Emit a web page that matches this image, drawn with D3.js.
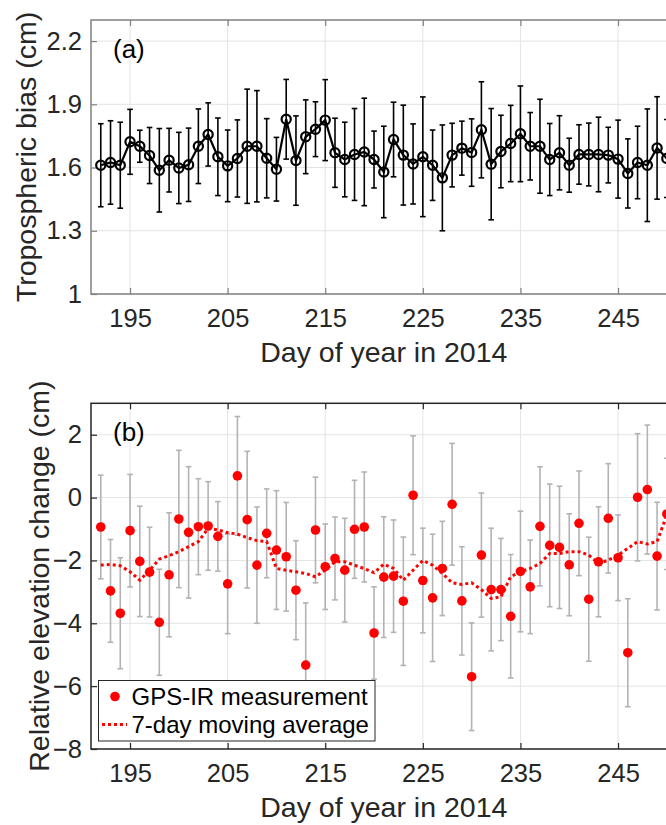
<!DOCTYPE html>
<html>
<head>
<meta charset="utf-8">
<script src="https://cdn.jsdelivr.net/npm/d3@7"></script>
<style>
  body { margin: 0; background: #fff; }
  svg { display: block; font-family: "Liberation Sans", Arial, Helvetica, sans-serif; }
</style>
</head>
<body>
<svg id="chart" width="666" height="825"></svg>
<script>

// data
var days = [192, 193, 194, 195, 196, 197, 198, 199, 200, 201, 202, 203, 204, 205, 206,
  207, 208, 209, 210, 211, 212, 213, 214, 215, 216, 217, 218, 219, 220, 221, 222,
  223, 224, 225, 226, 227, 228, 229, 230, 231, 232, 233, 234, 235, 236, 237, 238,
  239, 240, 241, 242, 243, 244, 245, 246, 247, 248, 249, 250];

var biasVals = [1.611, 1.624, 1.611, 1.722, 1.701, 1.657, 1.587, 1.635, 1.598, 1.613,
  1.701, 1.757, 1.651, 1.608, 1.643, 1.701, 1.701, 1.644, 1.592, 1.829, 1.633, 1.746,
  1.782, 1.825, 1.670, 1.638, 1.662, 1.674, 1.638, 1.579, 1.733, 1.659, 1.617, 1.651,
  1.611, 1.551, 1.659, 1.692, 1.671, 1.779, 1.616, 1.676, 1.714, 1.760, 1.701, 1.701,
  1.638, 1.670, 1.611, 1.662, 1.662, 1.662, 1.659, 1.640, 1.572, 1.624, 1.611, 1.693, 1.643];

var biasErr = [0.197, 0.198, 0.204, 0.154, 0.076, 0.133, 0.198, 0.151, 0.169, 0.174,
  0.177, 0.150, 0.184, 0.170, 0.183, 0.271, 0.264, 0.188, 0.151, 0.189, 0.212, 0.175,
  0.130, 0.192, 0.164, 0.177, 0.218, 0.255, 0.135, 0.217, 0.177, 0.237, 0.190, 0.284,
  0.167, 0.251, 0.151, 0.128, 0.160, 0.228, 0.264, 0.172, 0.181, 0.227, 0.160, 0.223,
  0.171, 0.176, 0.128, 0.141, 0.149, 0.177, 0.132, 0.185, 0.164, 0.172, 0.267, 0.243, 0.185];

var elevVals = [-0.936, -2.968, -3.680, -1.053, -2.030, -2.372, -3.968, -2.457, -0.681,
  -1.106, -0.926, -0.904, -1.234, -2.745, 0.691, -0.702, -2.149, -1.138, -1.670, -1.883,
  -2.947, -5.330, -1.032, -2.200, -1.936, -2.309, -1.010, -0.936, -4.309, -2.532, -2.500,
  -3.298, 0.074, -2.638, -3.190, -2.255, -0.213, -3.287, -5.700, -1.830, -2.926, -2.926,
  -3.777, -2.351, -2.840, -0.915, -1.521, -1.585, -2.138, -0.819, -3.234, -2.043, -0.660,
  -1.915, -4.936, 0.010, 0.255, -1.862, -0.520];

var elevErr = [1.649, 1.635, 1.766, 1.790, 1.756, 1.427, 1.687, 1.974, 2.185, 2.090,
  1.527, 1.410, 1.106, 1.585, 1.888, 2.174, 1.851, 1.414, 1.890, 1.729, 1.574, 1.980,
  1.681, 1.360, 1.319, 1.649, 1.559, 1.750, 1.469, 1.920, 1.788, 2.043, 1.890, 1.665,
  2.025, 1.500, 1.936, 1.723, 1.713, 1.975, 1.952, 1.626, 1.965, 1.920, 1.489, 1.895,
  1.952, 1.946, 1.622, 1.665, 1.973, 1.751, 1.740, 1.362, 1.718, 2.025, 2.053, 1.713, 1.770];

var movAvg = [-2.149, -2.130, -2.170, -2.360, -2.630, -2.310, -1.957, -1.850, -1.720,
  -1.560, -1.400, -0.980, -1.030, -1.117, -1.160, -1.277, -1.370, -1.400, -2.255, -2.310,
  -2.360, -2.415, -2.520, -2.310, -2.040, -2.040, -2.150, -2.260, -2.390, -2.117, -2.255,
  -2.630, -2.310, -2.000, -2.150, -2.415, -2.710, -2.766, -2.710, -2.930, -3.210, -3.160,
  -2.520, -2.360, -2.255, -2.096, -1.780, -1.780, -1.720, -1.720, -1.830, -2.096, -1.990,
  -1.830, -1.617, -1.400, -1.479, -1.400, -0.550];

var xTicks = [195, 205, 215, 225, 235, 245];
var biasTicks = [1, 1.3, 1.6, 1.9, 2.2];
var elevTicks = [-8, -6, -4, -2, 0, 2];

var svg = d3.select("#chart");

var left = 91, right = 676.6;
var x = d3.scaleLinear().domain([191, 251]).range([left, right]);

function drawFrame(g, y, top, bottom, yTicks, yFormat, boxColor, xLabel, yLabel, yLabelX, tag) {
  // grid
  g.append("g").selectAll("line.gx")
    .data(xTicks).enter().append("line")
    .attr("x1", function(d) { return x(d); }).attr("x2", function(d) { return x(d); })
    .attr("y1", top).attr("y2", bottom)
    .attr("stroke", "#e3e3e3").attr("stroke-width", 1);
  g.append("g").selectAll("line.gy")
    .data(yTicks).enter().append("line")
    .attr("x1", left).attr("x2", right)
    .attr("y1", function(d) { return y(d); }).attr("y2", function(d) { return y(d); })
    .attr("stroke", "#e3e3e3").attr("stroke-width", 1);

  var xAxis = g.append("g")
    .attr("transform", "translate(0," + bottom + ")")
    .call(d3.axisBottom(x).tickValues(xTicks).tickSize(-6).tickPadding(15).tickSizeOuter(0));
  var xTop = g.append("g")
    .attr("transform", "translate(0," + top + ")")
    .call(d3.axisTop(x).tickValues(xTicks).tickSize(-6).tickFormat("").tickSizeOuter(0));
  var yAxis = g.append("g")
    .attr("transform", "translate(" + left + ",0)")
    .call(d3.axisLeft(y).tickValues(yTicks).tickFormat(yFormat).tickSize(-6).tickPadding(9).tickSizeOuter(0));

  [xAxis, xTop, yAxis].forEach(function(a) {
    a.select(".domain").remove();
    a.selectAll(".tick line").attr("stroke", boxColor).attr("stroke-width", 1.2);
    a.selectAll("text").attr("fill", "#262626").attr("font-size", 25.5)
      .attr("font-family", "'Liberation Sans', Arial, sans-serif");
  });

  g.append("rect")
    .attr("x", left).attr("y", top)
    .attr("width", right - left).attr("height", bottom - top)
    .attr("fill", "none").attr("stroke", boxColor).attr("stroke-width", 1.5);

  g.append("text")
    .attr("x", (left + right) / 2).attr("y", bottom + 68)
    .attr("text-anchor", "middle").attr("font-size", 28.5).attr("fill", "#262626")
    .text(xLabel);

  g.append("text")
    .attr("transform", "translate(" + yLabelX + "," + (top + bottom) / 2 + ") rotate(-90)")
    .attr("text-anchor", "middle").attr("font-size", 28.5).attr("fill", "#262626")
    .text(yLabel);

  g.append("text")
    .attr("x", 113).attr("y", top + 38)
    .attr("font-size", 26).attr("fill", "#000")
    .text(tag);
}

// panel (a)
var topA = 20, botA = 294;
var yA = d3.scaleLinear().domain([1, 2.3]).range([botA, topA]);
var gA = svg.append("g");
drawFrame(gA, yA, topA, botA, biasTicks, function(d) { return d === 1 ? "1" : d3.format(".1f")(d); },
  "#808080", "Day of year in 2014", "Tropospheric bias (cm)", 36, "(a)");

var ptsA = days.map(function(d, i) { return { day: d, v: biasVals[i], e: biasErr[i] }; });

var barsA = gA.append("g").selectAll("g").data(ptsA).enter().append("g");
barsA.append("line")
  .attr("x1", function(d) { return x(d.day); }).attr("x2", function(d) { return x(d.day); })
  .attr("y1", function(d) { return yA(d.v - d.e); }).attr("y2", function(d) { return yA(d.v + d.e); })
  .attr("stroke", "#000").attr("stroke-width", 1.6);
barsA.selectAll("line.cap").data(function(d) { return [d.v - d.e, d.v + d.e].map(function(v) { return { day: d.day, v: v }; }); })
  .enter().append("line")
  .attr("x1", function(d) { return x(d.day) - 2.8; }).attr("x2", function(d) { return x(d.day) + 2.8; })
  .attr("y1", function(d) { return yA(d.v); }).attr("y2", function(d) { return yA(d.v); })
  .attr("stroke", "#000").attr("stroke-width", 1.6);

gA.append("path")
  .datum(ptsA)
  .attr("d", d3.line().x(function(d) { return x(d.day); }).y(function(d) { return yA(d.v); }))
  .attr("fill", "none").attr("stroke", "#000").attr("stroke-width", 2.2);

gA.append("g").selectAll("circle").data(ptsA).enter().append("circle")
  .attr("cx", function(d) { return x(d.day); })
  .attr("cy", function(d) { return yA(d.v); })
  .attr("r", 4.6)
  .attr("fill", "none").attr("stroke", "#000").attr("stroke-width", 2.2);

// panel (b)
var topB = 403.3, botB = 749;
var yB = d3.scaleLinear().domain([-8, 3]).range([botB, topB]);
var gB = svg.append("g");
drawFrame(gB, yB, topB, botB, elevTicks, d3.format("d"),
  "#262626", "Day of year in 2014", "Relative elevation change (cm)", 49, "(b)");

var ptsB = days.map(function(d, i) { return { day: d, v: elevVals[i], e: elevErr[i], m: movAvg[i] }; });

var barsB = gB.append("g").selectAll("g").data(ptsB).enter().append("g");
barsB.append("line")
  .attr("x1", function(d) { return x(d.day); }).attr("x2", function(d) { return x(d.day); })
  .attr("y1", function(d) { return yB(d.v - d.e); }).attr("y2", function(d) { return yB(d.v + d.e); })
  .attr("stroke", "#b3b3b3").attr("stroke-width", 1.6);
barsB.selectAll("line.cap").data(function(d) { return [d.v - d.e, d.v + d.e].map(function(v) { return { day: d.day, v: v }; }); })
  .enter().append("line")
  .attr("x1", function(d) { return x(d.day) - 2.8; }).attr("x2", function(d) { return x(d.day) + 2.8; })
  .attr("y1", function(d) { return yB(d.v); }).attr("y2", function(d) { return yB(d.v); })
  .attr("stroke", "#b3b3b3").attr("stroke-width", 1.6);

gB.append("g").selectAll("circle").data(ptsB).enter().append("circle")
  .attr("cx", function(d) { return x(d.day); })
  .attr("cy", function(d) { return yB(d.v); })
  .attr("r", 4.8)
  .attr("fill", "#ff0000");

gB.append("path")
  .datum(ptsB)
  .attr("d", d3.line().x(function(d) { return x(d.day); }).y(function(d) { return yB(d.m); }))
  .attr("fill", "none").attr("stroke", "#ff0000").attr("stroke-width", 3)
  .attr("stroke-dasharray", "3,3");

// legend
var leg = gB.append("g");
leg.append("rect")
  .attr("x", 98.5).attr("y", 680.5).attr("width", 276.5).attr("height", 60.5)
  .attr("fill", "#fff").attr("stroke", "#262626").attr("stroke-width", 1);
leg.append("circle").attr("cx", 115).attr("cy", 696.5).attr("r", 4.8).attr("fill", "#ff0000");
leg.append("line")
  .attr("x1", 102).attr("x2", 127).attr("y1", 724.5).attr("y2", 724.5)
  .attr("stroke", "#ff0000").attr("stroke-width", 3).attr("stroke-dasharray", "3,3");
leg.selectAll("text.lt").data(["GPS-IR measurement", "7-day moving average"]).enter().append("text")
  .attr("x", 131.5)
  .attr("y", function(d, i) { return 705 + i * 28; })
  .attr("font-size", 24).attr("fill", "#000")
  .text(function(d) { return d; });

</script>
</body>
</html>
